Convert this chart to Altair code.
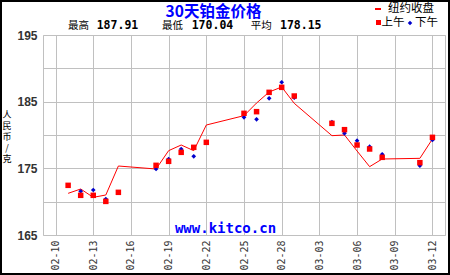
import altair as alt
import pandas as pd

DATES = ["2013-02-11", "2013-02-12", "2013-02-13", "2013-02-14", "2013-02-15",
         "2013-02-18", "2013-02-19", "2013-02-20", "2013-02-21", "2013-02-22",
         "2013-02-25", "2013-02-26", "2013-02-27", "2013-02-28", "2013-03-01",
         "2013-03-04", "2013-03-05", "2013-03-06", "2013-03-07", "2013-03-08",
         "2013-03-11", "2013-03-12"]
NY_CLOSE = [171.25, 171.9, 170.65, 171.0, 175.35,
            174.9, 177.65, 178.5, 177.65, 181.5,
            182.9, 184.8, 186.45, 187.2, 184.75,
            179.9, 180.0, 177.6, 175.25, 176.4,
            176.5, 179.4]
AM = [172.45, 170.95, 170.95, 170.04, 171.4,
      175.45, 176.05, 177.4, 178.15, 178.9,
      183.25, 183.5, 186.4, 187.15, 185.85,
      181.75, 180.8, 178.5, 177.9, 176.65,
      175.85, 179.65]
PM = [None, 171.55, 171.75, 170.4, None,
      174.9, 176.4, 177.9, 176.8, None,
      182.65, 182.35, 185.5, 187.91, 185.6,
      181.95, 180.25, 179.15, 178.25, 177.1,
      175.4, 179.25]

TITLE = "30天铂金价格"
STAT_LABELS = ["最高", "最低", "平均"]
STAT_VALUES = ["187.91", "170.04", "178.15"]
LEGEND_TEXT = ["纽约收盘", "上午", "下午"]
Y_TITLE = ["人", "民", "币", "/", "克"]
WATERMARK = "www.kitco.cn"
X_TICKS = [(2, 10), (2, 13), (2, 16), (2, 19), (2, 22), (2, 25), (2, 28),
           (3, 3), (3, 6), (3, 9), (3, 12)]
Y_TICKS = [165, 170, 175, 180, 185, 190, 195]

df = pd.DataFrame({"date": DATES, "ny": NY_CLOSE, "am": AM, "pm": PM})
one = pd.DataFrame({"k": [0]})

RED = "#ff0000"
BLUE = "#0000cc"
TBLUE = "#0000ff"

x_enc = alt.X(
    "date:T",
    scale=alt.Scale(type="utc", domain=[alt.DateTime(year=2013, month=2, date=9, utc=True),
                                        alt.DateTime(year=2013, month=3, date=13, utc=True)]),
    axis=alt.Axis(values=[alt.DateTime(year=2013, month=m, date=d, utc=True) for m, d in X_TICKS],
                  format="%m-%d", labelAngle=270, title=None, grid=True, gridColor="#c0c0c0",
                  domain=False, ticks=False, labelFont="DejaVu Sans Mono", labelFontSize=10,
                  labelColor="#333333", labelPadding=5, labelOverlap=False),
)


def y_enc(field):
    return alt.Y(
        field,
        scale=alt.Scale(domain=[165, 195], nice=False, zero=False),
        axis=alt.Axis(values=Y_TICKS, labelExpr="datum.value % 10 == 5 ? datum.label : ''",
                      title=None, grid=True, gridColor="#c0c0c0", domain=False, ticks=False,
                      labelFont="Liberation Sans", labelFontWeight="bold", labelFontSize=12,
                      labelColor="#333333", labelPadding=6, labelOverlap=False),
    )


base = alt.Chart(df)
line = base.mark_line(color=RED, strokeWidth=1).encode(x=x_enc, y=y_enc("ny:Q"))
pm = base.mark_point(shape="diamond", filled=True, color=BLUE, size=22, opacity=1).encode(
    x=x_enc, y=y_enc("pm:Q"))
am = base.mark_square(color=RED, size=30, opacity=1).encode(x=x_enc, y=y_enc("am:Q"))

ann = alt.Chart(one)
layers = [line, pm, am]

# title
layers.append(ann.mark_text(text=TITLE, font="Noto Sans CJK SC", fontWeight="bold", fontSize=15.5,
                            color=TBLUE, align="center", baseline="middle").encode(
    x=alt.value(170.5), y=alt.value(-23)))

# stats
stat_lx = [25, 119, 207.7]
stat_vx = [53.7, 148.7, 237]
for lab, val, lx, vx in zip(STAT_LABELS, STAT_VALUES, stat_lx, stat_vx):
    layers.append(ann.mark_text(text=lab, font="Noto Sans CJK SC", fontSize=10.5, color="#000000",
                                align="left", baseline="middle").encode(
        x=alt.value(lx), y=alt.value(-9)))
    layers.append(ann.mark_text(text=val, font="DejaVu Sans Mono", fontWeight="bold", fontSize=11.5,
                                color="#000000", align="left", baseline="middle").encode(
        x=alt.value(vx), y=alt.value(-9)))

# legend
layers.append(ann.mark_rule(color=RED, strokeWidth=2).encode(
    x=alt.value(332), x2=alt.value(338), y=alt.value(-26)))
layers.append(ann.mark_text(text=LEGEND_TEXT[0], font="Noto Sans CJK SC", fontSize=11.5, color="#000000",
                            align="left", baseline="middle").encode(x=alt.value(345), y=alt.value(-26.5)))
layers.append(ann.mark_square(color=RED, size=25, opacity=1).encode(x=alt.value(335.5), y=alt.value(-12.5)))
layers.append(ann.mark_text(text=LEGEND_TEXT[1], font="Noto Sans CJK SC", fontSize=11.5, color="#000000",
                            align="left", baseline="middle").encode(x=alt.value(338.5), y=alt.value(-11.7)))
layers.append(ann.mark_point(shape="diamond", filled=True, color=BLUE, size=20, opacity=1).encode(
    x=alt.value(367), y=alt.value(-12)))
layers.append(ann.mark_text(text=LEGEND_TEXT[2], font="Noto Sans CJK SC", fontSize=11.5, color="#000000",
                            align="left", baseline="middle").encode(x=alt.value(372), y=alt.value(-11.7)))

# y title (stacked)
layers.append(ann.mark_text(text=Y_TITLE, font="Noto Sans CJK SC", fontSize=9, lineHeight=11,
                            color="#000000", align="center", baseline="top").encode(
    x=alt.value(-36), y=alt.value(76)))

# watermark
layers.append(ann.mark_text(text=WATERMARK, font="DejaVu Sans Mono", fontWeight="bold", fontSize=14,
                            color=TBLUE, align="center", baseline="middle").encode(
    x=alt.value(182.5), y=alt.value(193.5)))

# outer frame
layers.append(ann.mark_rect(fillOpacity=0, stroke="#000000", strokeWidth=2).encode(
    x=alt.value(-42), x2=alt.value(406), y=alt.value(-34), y2=alt.value(239)))

chart = alt.layer(*layers).properties(
    width=402, height=200,
    autosize="none",
    padding={"left": 43, "top": 35, "right": 5, "bottom": 40},
    background="#ffffff",
).configure_view(stroke="#c0c0c0", strokeWidth=1)

chart.save("out.html", embed_options={"renderer": "svg", "actions": False})
